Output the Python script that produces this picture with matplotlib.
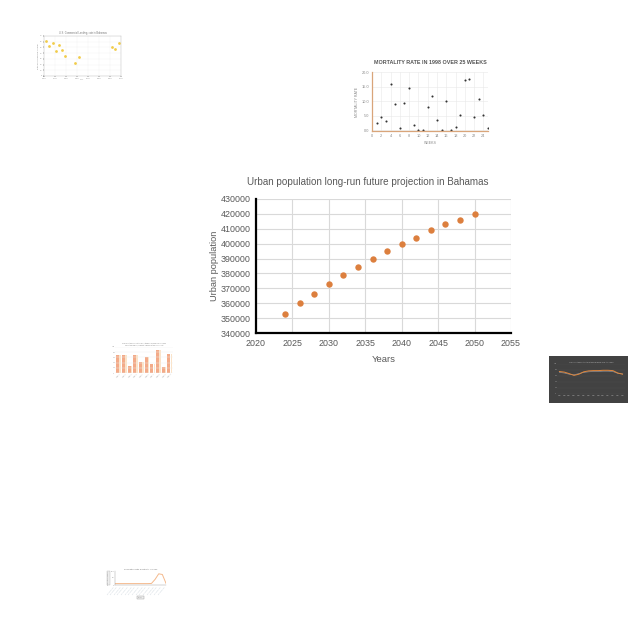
import numpy as np
import matplotlib
matplotlib.use("Agg")
import matplotlib.pyplot as plt

plt.rcParams['font.family'] = ['Liberation Sans', 'DejaVu Sans']

# main chart data
years = [2024, 2026, 2028, 2030, 2032, 2034, 2036, 2038, 2040, 2042, 2044, 2046, 2048, 2050]
urban_pop = [353000, 360000, 366000, 373000, 379000, 384000, 390000, 395000,
             400000, 404000, 409000, 413000, 416000, 420000]
x_ticks = list(range(2020, 2056, 5))
y_ticks = list(range(340000, 430001, 10000))

# small thumbnail data (rough reads)
tl_x = [1962, 1965, 1968, 1970.5, 1973.5, 1976, 1979.5, 1988.5, 1991.5, 2021.5, 2025, 2028]
tl_y = [62, 52, 57, 44, 55, 45, 35, 23, 33, 51, 48, 57]
weeks = list(range(1, 26))
mortality = [2.6, 4.6, 3.1, 15.7, 9.0, 0.7, 9.4, 14.6, 1.7, 0.0, 0.0, 8.0, 11.6,
             3.5, 0.0, 10.1, 0.1, 1.0, 5.1, 17.2, 17.6, 4.4, 10.6, 5.2, 0.6]
bar_vals = [70, 70, 27, 68, 43, 60, 35, 87, 22, 73]
dark_vals = [75, 73, 68, 62, 66, 74, 77, 78, 78, 79, 79, 78, 70, 66]
dark_vals2 = [72, 70, 66, 64, 68, 72, 74, 75, 75, 76, 76, 75, 69, 67]
low_vals = [10, 10, 10, 10, 10, 10, 10, 10, 10, 10, 11, 40, 80, 75, 12]

GRAY = '#595959'
ORANGE = '#dc7f3e'

fig = plt.figure(figsize=(6.4, 6.4), dpi=100)


def px_axes(x0, y0, x1, y1):
    # pixel box (top-left origin) -> figure axes
    return fig.add_axes([x0 / 640, 1 - y1 / 640, (x1 - x0) / 640, (y1 - y0) / 640])


# ---- main chart ----
ax = px_axes(256, 199, 511, 333)
ax.plot(years, urban_pop, 'o', color=ORANGE, markersize=4.6, markeredgewidth=0)
ax.set_xlim(2020, 2055)
ax.set_ylim(340000, 430000)
ax.set_xticks(x_ticks)
ax.set_yticks(y_ticks)
ax.grid(True, color='#d9d9d9', linewidth=0.8)
ax.set_axisbelow(True)
for s in ['top', 'right']:
    ax.spines[s].set_visible(False)
for s in ['left', 'bottom']:
    ax.spines[s].set_linewidth(1.6)
    ax.spines[s].set_color('black')
ax.tick_params(length=0, labelsize=6.4, labelcolor=GRAY, pad=4)
# title is centred over the whole chart block, not just the plot area
fig.text(368 / 640, 1 - 182 / 640, 'Urban population long-run future projection in Bahamas',
         fontsize=7.1, color=GRAY, ha='center', va='center')
ax.set_xlabel('Years', fontsize=6.8, color=GRAY, labelpad=5)
ax.set_ylabel('Urban population', fontsize=6.6, color=GRAY, labelpad=1)

# ---- top-left thumbnail ----
a1 = px_axes(44, 36, 121, 76)
a1.plot(tl_x, tl_y, 'o', color='#f1cc4a', markersize=2.0, markeredgewidth=0)
a1.set_xlim(1960, 2030)
a1.set_ylim(0, 70)
a1.set_xticks(range(1960, 2031, 10))
a1.set_yticks(range(0, 71, 10))
a1.grid(True, color='#f2f2f2', linewidth=0.3)
for s in a1.spines.values():
    s.set_linewidth(0.3)
    s.set_color('#bbbbbb')
a1.tick_params(length=0.8, width=0.3, labelsize=1.5, labelcolor='#888888', pad=0.5)
a1.set_title('U.S. Commercial Lending, rate in Bahamas', fontsize=1.8, color='#777777', pad=1.5)
a1.set_xlabel('Year', fontsize=1.5, color='#888888', labelpad=0.5)
a1.set_ylabel('Rate of commercial lending', fontsize=1.5, color='#888888', labelpad=0.5)

# ---- mortality thumbnail ----
a2 = px_axes(372, 72, 488, 131)
a2.plot(weeks, mortality, 'o', color='#333333', markersize=1.5, markeredgewidth=0)
a2.set_xlim(0, 25)
a2.set_ylim(-0.3, 20)
a2.set_xticks(range(0, 25, 2))
a2.set_yticks([0, 5, 10, 15, 20])
a2.set_yticklabels(['0.0', '5.0', '10.0', '15.0', '20.0'])
a2.grid(True, color='#e9e9e9', linewidth=0.4)
for s in ['top', 'right']:
    a2.spines[s].set_visible(False)
for s in ['left', 'bottom']:
    a2.spines[s].set_color('#d9a57a')
    a2.spines[s].set_linewidth(0.9)
a2.tick_params(length=0, labelsize=2.8, labelcolor='#888888', pad=2)
a2.set_title('MORTALITY RATE IN 1998 OVER 25 WEEKS', fontsize=3.9, color='#555555',
             fontweight='bold', pad=6)
a2.set_xlabel('WEEKS', fontsize=2.6, color='#888888', labelpad=2)
a2.set_ylabel('MORTALITY RATE', fontsize=2.6, color='#888888', labelpad=2)

# ---- bar thumbnail ----
a3 = px_axes(115, 347, 173, 373)
bx = np.arange(len(bar_vals))
a3.bar(bx - 0.12, bar_vals, width=0.55, color='#f3aa88')
a3.bar(bx + 0.3, bar_vals, width=0.25, color='#fbe3c8')
a3.set_xlim(-0.6, len(bar_vals) - 0.4)
a3.set_ylim(0, 100)
a3.set_xticks(bx)
a3.set_xticklabels(['item %d' % (i + 1) for i in bx], rotation=45, fontsize=1.2, color='#999999')
a3.tick_params(length=0, labelsize=1.2, labelcolor='#999999', pad=0.5)
a3.grid(True, axis='y', color='#eeeeee', linewidth=0.3)
for s in a3.spines.values():
    s.set_visible(False)
a3.set_title('Share of the population by category group in Bahamas\nselected region, highest values in the series list',
             fontsize=1.4, color='#888888', pad=1)

# ---- dark thumbnail ----
bg = px_axes(549, 356, 628, 403)
bg.set_facecolor('#424242')
bg.set_xticks([])
bg.set_yticks([])
for s in bg.spines.values():
    s.set_visible(False)
a4 = px_axes(557, 364, 625, 394)
a4.set_facecolor('#424242')
dx = np.arange(len(dark_vals))
a4.plot(dx, dark_vals2, color='#8a8f9a', linewidth=0.5)
a4.plot(dx, dark_vals, color='#e0873c', linewidth=0.7)
a4.set_xlim(-0.5, len(dark_vals) - 0.5)
a4.set_ylim(0, 100)
a4.set_xticks(dx)
a4.set_xticklabels(['%d' % (2000 + i) for i in dx])
a4.grid(True, axis='y', color='#505050', linewidth=0.3)
for s in a4.spines.values():
    s.set_visible(False)
a4.tick_params(length=0, labelsize=1.2, labelcolor='#aaaaaa', pad=0.5)
a4.set_title('Life expectancy at birth in the Bahamas over the years', fontsize=1.4, color='#bbbbbb', pad=1)

# ---- bottom line thumbnail ----
a5 = px_axes(115, 571, 166, 585)
lx = np.arange(len(low_vals))
a5.plot(lx, low_vals, color='#f4b98c', linewidth=0.7)
a5.set_xlim(0, len(low_vals) - 1)
a5.set_ylim(0, 100)
a5.set_xticks(lx)
a5.set_xticklabels(['\u2014\u2014\u2014\u2014'] * len(low_vals), rotation=50, ha='right')
a5.set_yticks([0, 50, 100])
for s in ['top', 'right']:
    a5.spines[s].set_visible(False)
for s in ['left', 'bottom']:
    a5.spines[s].set_linewidth(0.3)
    a5.spines[s].set_color('#999999')
a5.tick_params(axis='x', length=0, labelsize=1.8, labelcolor='#a9b8c4', pad=0.5)
a5.tick_params(axis='y', length=0, labelsize=1.6, labelcolor='#999999', pad=0.5)
a5.set_title('Population with electricity in 1990', fontsize=1.6, color='#777777', pad=1)
a5.set_ylabel('Population share', fontsize=1.4, color='#999999', labelpad=1,
               bbox=dict(facecolor='#eeeeee', edgecolor='#999999', linewidth=0.2, pad=0.4))
a5.set_xlabel('Year', fontsize=1.6, color='#999999', labelpad=1,
              bbox=dict(facecolor='#eeeeee', edgecolor='#999999', linewidth=0.3, pad=0.6))

fig.savefig('out.png', dpi=100)
